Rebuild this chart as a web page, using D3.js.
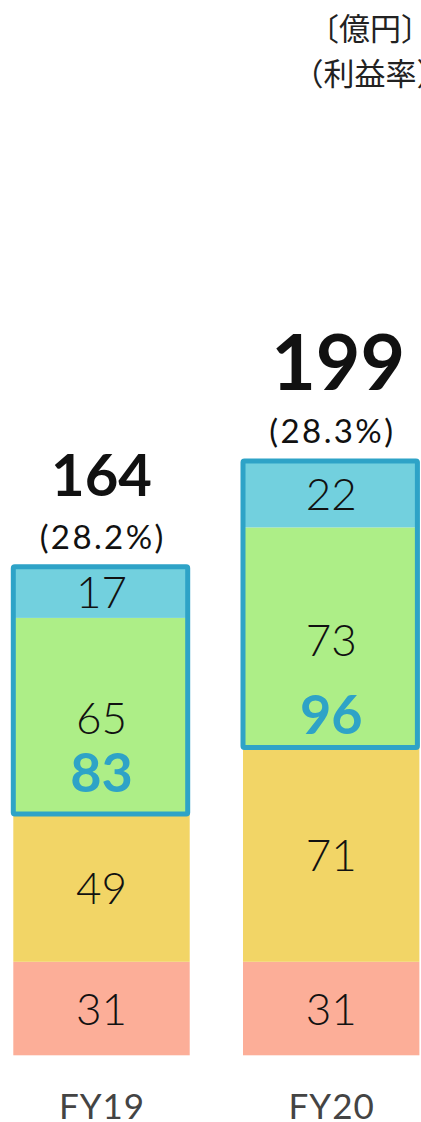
<!DOCTYPE html>
<html>
<head>
<meta charset="utf-8">
<script src="https://cdn.jsdelivr.net/npm/d3@7"></script>
<style>
  html, body { margin: 0; padding: 0; background: #fff; }
  svg { display: block; }
</style>
</head>
<body>
<div id="chart"></div>
<script>
// ---- data ----
const years = ["FY19", "FY20"];
const segA = [31, 31];   // pink (bottom)
const segB = [49, 71];   // yellow
const segC = [65, 73];   // green
const segD = [17, 22];   // blue (top)
const totals = [164, 199];
const margins = ["(28.2%)", "(28.3%)"];
const highlight = [83, 96];
const unitLabels = ["〔億円〕", "（利益率）"];

// ---- layout ----
const W = 421, H = 1122;
const colors = ["#fcae98", "#f2d566", "#adee87", "#72d0de"];
const outlineColor = "#2ea3c7";
const numFont = "Lato, 'Noto Sans', sans-serif";
const totalSize = [58, 77], totalDx = [0, 7];
const hlOffset = [22, 14];

const svg = d3.select("#chart").append("svg").attr("width", W).attr("height", H);

const x = d3.scaleBand().domain(years).range([13.3, 419.4]).paddingInner(0.232).paddingOuter(0);
const y = d3.scaleLinear().domain([0, 200]).range([1055.3, 1055.3 - 200 * 3.0165]);

const series = [segA, segB, segC, segD];
const rows = years.map((yr, i) => {
  let acc = 0;
  const segs = series.map((s, k) => {
    const s0 = acc; acc += s[i];
    return { k, v: s[i], y0: s0, y1: acc };
  });
  return { yr, i, segs, top: acc };
});

const g = svg.append("g");
rows.forEach(r => {
  const gx = g.append("g");
  const x0 = x(r.yr), bw = x.bandwidth(), cx = x0 + bw / 2;
  gx.selectAll("rect.seg").data(r.segs).join("rect")
    .attr("class", "seg")
    .attr("x", x0).attr("width", bw)
    .attr("y", d => y(d.y1)).attr("height", d => y(d.y0) - y(d.y1))
    .attr("fill", d => colors[d.k]);

  // outline around green+blue
  const gs = r.segs[2], bs = r.segs[3];
  gx.append("rect")
    .attr("x", x0).attr("width", bw - 2)
    .attr("y", y(bs.y1)).attr("height", y(gs.y0) - y(bs.y1))
    .attr("fill", "none").attr("stroke", outlineColor).attr("stroke-width", 5)
    .attr("rx", 1.5).attr("stroke-linejoin", "round");

  // segment labels
  gx.selectAll("text.seglab").data(r.segs).join("text")
    .attr("class", "seglab")
    .attr("x", cx)
    .attr("y", d => (y(d.y0) + y(d.y1)) / 2 + (d.k === 2 ? 18 : 16))
    .attr("text-anchor", "middle")
    .attr("font-family", numFont).attr("font-weight", 300)
    .attr("font-size", 44).attr("fill", "#111")
    .text(d => d.v);

  // highlight label
  gx.append("text")
    .attr("x", cx).attr("y", y(gs.y0) - hlOffset[r.i])
    .attr("text-anchor", "middle")
    .attr("font-family", numFont).attr("font-weight", 700)
    .attr("font-size", 54).attr("fill", outlineColor)
    .text(highlight[r.i]);

  // percent label
  gx.append("text")
    .attr("x", cx + 1.2).attr("y", y(r.top) - 18)
    .attr("text-anchor", "middle")
    .attr("font-family", numFont).attr("font-weight", 400)
    .attr("font-size", 33).attr("letter-spacing", 2.4).attr("fill", "#111")
    .text(margins[r.i]);

  // total label
  gx.append("text")
    .attr("x", cx + totalDx[r.i]).attr("y", y(r.top) - 71)
    .attr("text-anchor", "middle")
    .attr("font-family", numFont).attr("font-weight", 700)
    .attr("font-size", totalSize[r.i]).attr("fill", "#111")
    .text(totals[r.i]);

  // category label
  gx.append("text")
    .attr("x", cx + 0.5).attr("y", 1119)
    .attr("text-anchor", "middle")
    .attr("font-family", numFont).attr("font-weight", 400)
    .attr("font-size", 35).attr("letter-spacing", 1).attr("fill", "#444")
    .text(r.yr);
});

// unit labels
svg.selectAll("text.unit").data(unitLabels).join("text")
  .attr("class", "unit")
  .attr("x", 370).attr("y", (d, i) => 40 + i * 45)
  .attr("text-anchor", "middle")
  .attr("font-family", "'Noto Sans CJK JP', sans-serif")
  .attr("font-size", 31).attr("fill", "#222")
  .text(d => d);
</script>
</body>
</html>
